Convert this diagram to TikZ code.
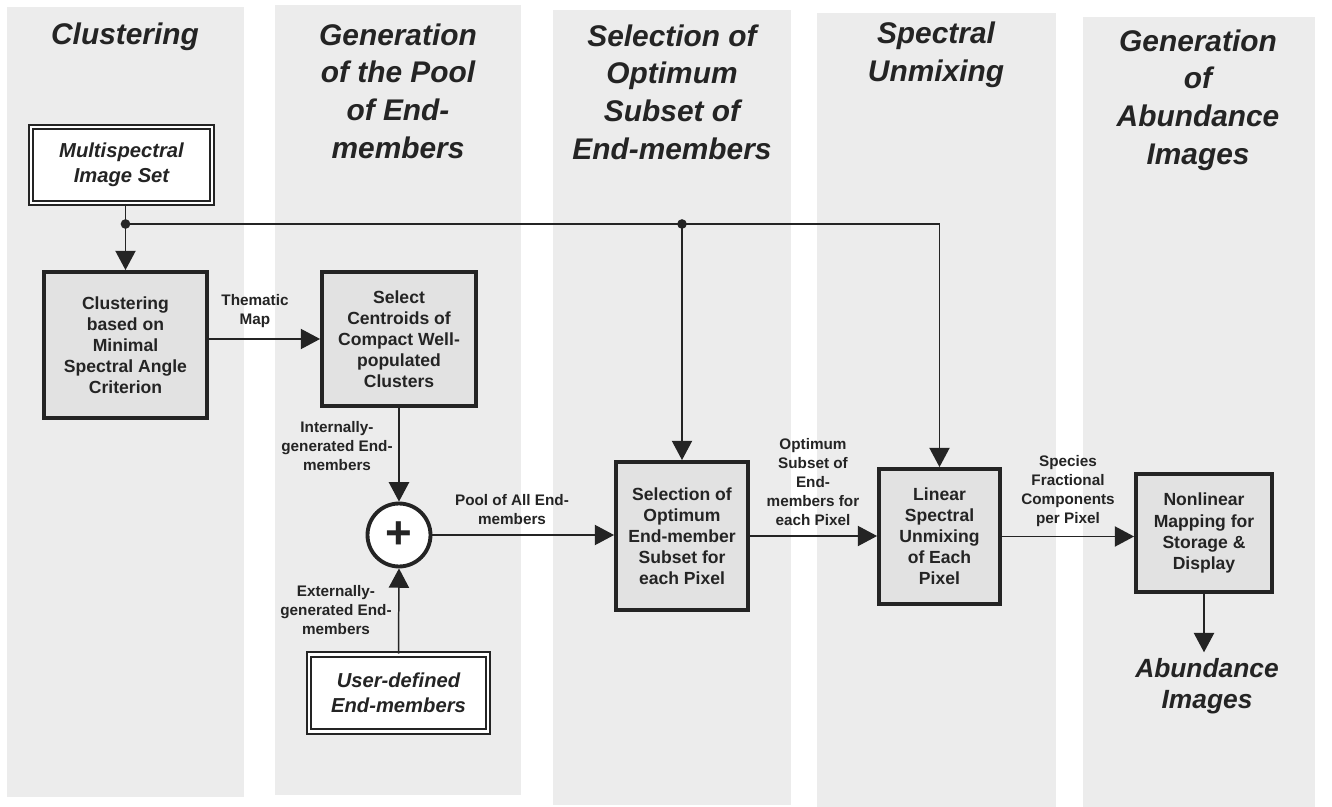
\documentclass[tikz,border=0pt]{standalone}
\usepackage{fontspec}
\setmainfont{Liberation Sans}
\usetikzlibrary{arrows.meta,backgrounds,calc,positioning}
\definecolor{colbg}{RGB}{236,236,236}
\definecolor{boxbg}{RGB}{226,226,226}
\definecolor{ink}{RGB}{36,36,36}

\begin{document}
\begin{tikzpicture}[x=0.02cm,y=-0.02cm,
  lane/.style={fill=colbg},
  lanetitle/.style={align=center,font=\fontsize{17}{21.5}\selectfont\bfseries\itshape,text=ink},
  procbox/.style={draw=ink,line width=2.2pt,fill=boxbg,align=center,font=\fontsize{10}{12}\selectfont\bfseries,text=ink,inner sep=2pt},
  inbox/.style={draw=ink,double=white,double distance=1.6pt,line width=1pt,fill=white,align=center,font=\fontsize{11.5}{14}\selectfont\bfseries\itshape,text=ink},
  lbl/.style={align=center,font=\fontsize{8.7}{10.8}\selectfont\bfseries,text=ink,inner sep=0pt},
  flow/.style={draw=ink,line width=0.85pt,-{Triangle[length=11pt,width=11.5pt]}},
  link/.style={draw=ink,line width=0.85pt},
  joint/.style={circle,fill=ink,inner sep=0pt,minimum size=5.5pt}]
\fill[white] (0,0) rectangle (1332,807);
\useasboundingbox (0,0) rectangle (1332,807);
\fill[lane] (7,7) rectangle (244,797);
\fill[lane] (275,5) rectangle (521,795);
\fill[lane] (553,10) rectangle (791,805);
\fill[lane] (817,13) rectangle (1056,807);
\fill[lane] (1083,17) rectangle (1315,807);
\node[lanetitle] (ttlA) at (125,37) {Clustering};
\node[lanetitle] (ttlB) at (398,91) {Generation\\of the Pool\\of End-\\members};
\node[lanetitle] (ttlC) at (672,92) {Selection of\\Optimum\\Subset of\\End-members};
\node[lanetitle] (ttlD) at (936,55) {Spectral\\Unmixing};
\node[lanetitle] (ttlE) at (1198,100) {Generation\\of\\Abundance\\Images};
\node[inbox,minimum width=3.62cm,minimum height=1.52cm] (msi) at (121.5,165) {Multispectral\\Image Set};
\node[procbox,minimum width=3.26cm,minimum height=2.92cm] (clu) at (125.5,345) {Clustering\\based on\\Minimal\\Spectral Angle\\Criterion};
\node[procbox,minimum width=3.08cm,minimum height=2.68cm] (sel) at (399,339) {Select\\Centroids of\\Compact Well-\\populated\\Clusters};
\node[circle,draw=ink,line width=2.2pt,fill=white,minimum size=1.26cm,inner sep=0pt,font=\fontsize{26}{26}\selectfont\bfseries,text=ink] (sum) at (399,535) {+};
\node[inbox,minimum width=3.58cm,minimum height=1.54cm] (usr) at (398.5,693) {User-defined\\End-members};
\node[procbox,minimum width=2.64cm,minimum height=2.96cm] (opt) at (682,536) {Selection of\\Optimum\\End-member\\Subset for\\each Pixel};
\node[procbox,minimum width=2.42cm,minimum height=2.70cm] (lin) at (939.5,536.5) {Linear\\Spectral\\Unmixing\\of Each\\Pixel};
\node[procbox,minimum width=2.72cm,minimum height=2.36cm] (non) at (1204,533) {Nonlinear\\Mapping for\\Storage \&\\Display};
\node[align=center,font=\fontsize{15}{18}\selectfont\bfseries\itshape,text=ink,inner sep=3pt] (abi) at (1207,686) {Abundance\\Images};
\coordinate (bus) at (0,224);
\coordinate (tapA) at (clu.north |- bus);
\coordinate (tapB) at (opt.north |- bus);
\coordinate (tapC) at (lin.north |- bus);
\draw[flow] (msi.south -| clu.north) -- (clu.north);
\draw[flow] (tapA) -- (tapC) -- (lin.north);
\draw[flow] (tapB) -- (opt.north);
\node[joint] (dotA) at (tapA) {};
\node[joint] (dotB) at (tapB) {};
\draw[flow] (clu.east |- sel.west) -- (sel.west);
\draw[flow] (sel.south) -- (sum.north);
\draw[flow] (usr.north) -- (sum.south);
\draw[flow] (sum.east) -- (sum.east -| opt.west);
\draw[flow] (opt.east) -- (opt.east -| lin.west);
\draw[flow] (lin.east) -- (lin.east -| non.west);
\draw[flow] (non.south) -- (non.south |- abi.north);
\node[lbl] (lbThem) at (255,311) {Thematic\\Map};
\node[lbl] (lbInt) at (337,446) {Internally-\\generated End-\\members};
\node[lbl] (lbExt) at (336,610) {Externally-\\generated End-\\members};
\node[lbl] (lbPool) at (512,510) {Pool of All End-\\members};
\node[lbl] (lbSub) at (813,482) {Optimum\\Subset of\\End-\\members for\\each Pixel};
\node[lbl] (lbSpc) at (1068,491) {Species\\Fractional\\Components\\per Pixel};
\end{tikzpicture}
\end{document}
